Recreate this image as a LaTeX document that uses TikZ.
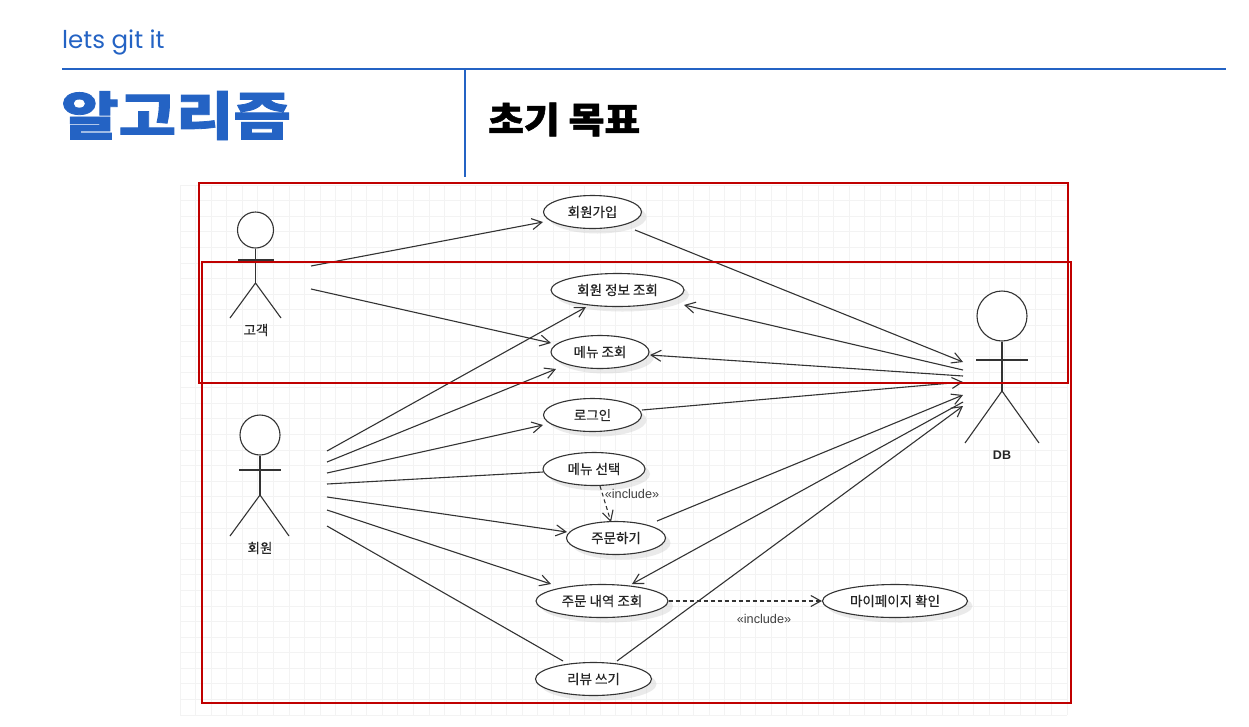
\documentclass[tikz,border=0pt]{standalone}
\usepackage{fontspec}
\usetikzlibrary{shapes.geometric,arrows.meta,shadows}
\newfontfamily\krfont[FakeBold=0.4]{Noto Sans CJK KR}
\newfontfamily\krheavy[BoldFeatures={FakeBold=1.5}]{Noto Sans CJK KR}
\newfontfamily\brandfont{Poppins}
\newfontfamily\umlfont{Liberation Sans}
\definecolor{slideblue}{HTML}{2463C4}
\definecolor{boxred}{HTML}{C00000}
\definecolor{gridgray}{HTML}{F3F3F3}
\definecolor{linegray}{HTML}{333333}
\tikzset{
  gridline/.style={gridgray,line width=0.8pt},
  slideline/.style={slideblue,line width=2pt},
  redbox/.style={boxred,line width=2pt},
  stick/.style={linegray,line width=1.1pt},
  usecase/.style={ellipse,draw=linegray,line width=1.1pt,fill=white,inner sep=0pt,minimum height=33pt,
    font=\krfont\fontsize{13.5}{13.5}\selectfont,text=black!85,
    drop shadow={shadow xshift=5pt,shadow yshift=-5pt,fill=black!20,opacity=0.4}},
  actorlabel/.style={font=\krfont\fontsize{13.5}{13.5}\selectfont,text=black!85,inner sep=0pt},
  note/.style={font=\umlfont\fontsize{12.7}{12.7}\selectfont,text=black!75,inner sep=0pt},
  assoc/.style={linegray,line width=1.1pt,-{Straight Barb[length=10pt,width=11pt]}},
  plainassoc/.style={linegray,line width=1.1pt},
  incl/.style={linegray,line width=1.1pt,dash pattern=on 4pt off 3pt,-{Straight Barb[length=10pt,width=11pt]}},
  head/.style={circle,draw=linegray,line width=1.1pt,fill=white,inner sep=0pt}
}
\begin{document}
\begin{tikzpicture}[x=1pt,y=-1pt]
  \useasboundingbox (0,0) rectangle (1249,726);
  \fill[white] (0,0) rectangle (1249,726);

  % header
  \node[anchor=base west,inner sep=0pt,text=slideblue,font=\brandfont\fontsize{24.5}{24.5}\selectfont] (brand) at (62,48) {lets git it};
  \draw[slideline] (62,69) -- (1226,69);
  \draw[slideline] (465,69) -- (465,177);
  \node[anchor=base west,inner sep=0pt,xscale=1.2,text=slideblue,font=\krheavy\bfseries\fontsize{52}{52}\selectfont] (title) at (61,135) {알고리즘};
  \node[anchor=base west,inner sep=0pt,xscale=1.08,text=black,font=\krheavy\bfseries\fontsize{36}{36}\selectfont] (subtitle) at (488,133) {초기 목표};

  % grid
  \foreach \i in {0,...,57} \draw[gridline] ({180+15.56*\i},185) -- ({180+15.56*\i},715);
  \foreach \i in {0,...,34} \draw[gridline] (180,{185+15.59*\i}) -- (1067,{185+15.59*\i});

  % actors
  \node[head,minimum size=36pt] (guesthead) at (255.5,230) {};
  \coordinate (guesthip) at (255.5,283);
  \draw[stick] (guesthead.south) -- (guesthip);
  \draw[stick] (238,260) -- (274,260);
  \draw[stick] (230,318) -- (guesthip) -- (281,318);
  \node[actorlabel] (guest) at (256,330) {고객};

  \node[head,minimum size=40pt] (memberhead) at (260,435) {};
  \coordinate (memberhip) at (260,495);
  \draw[stick] (memberhead.south) -- (memberhip);
  \draw[stick] (239,470) -- (281,470);
  \draw[stick] (230,536) -- (memberhip) -- (289,536);
  \node[actorlabel] (member) at (260,548) {회원};

  \node[head,minimum size=50pt] (dbhead) at (1002,316) {};
  \coordinate (dbhip) at (1002,391);
  \draw[stick] (dbhead.south) -- (dbhip);
  \draw[stick] (976,360) -- (1028,360);
  \draw[stick] (965,443) -- (dbhip) -- (1039,443);
  \node[inner sep=0pt,text=black!85,font=\umlfont\bfseries\fontsize{12.5}{12.5}\selectfont] (db) at (1002,455) {DB};

  % use cases
  \node[usecase,minimum width=98pt] (signup) at (592.5,212) {회원가입};
  \node[usecase,minimum width=133pt] (info) at (617.5,290) {회원 정보 조회};
  \node[usecase,minimum width=98pt] (menu) at (600,352) {메뉴 조회};
  \node[usecase,minimum width=98pt] (login) at (592.5,415) {로그인};
  \node[usecase,minimum width=102pt] (select) at (594,469) {메뉴 선택};
  \node[usecase,minimum width=99pt] (order) at (616,538) {주문하기};
  \node[usecase,minimum width=132pt] (history) at (602,601) {주문 내역 조회};
  \node[usecase,minimum width=145pt] (mypage) at (895,601) {마이페이지 확인};
  \node[usecase,minimum width=116pt] (review) at (593.5,679) {리뷰 쓰기};

  % free ends next to the actors
  \coordinate (g1) at (311,266);
  \coordinate (g2) at (311,289);
  \coordinate (m1) at (327,451);
  \coordinate (m2) at (327,462);
  \coordinate (m3) at (327,473);
  \coordinate (m4) at (327,484);
  \coordinate (m5) at (327,497);
  \coordinate (m6) at (327,510);
  \coordinate (m7) at (327,526);
  \coordinate (d1) at (963,362);
  \coordinate (d2) at (963,370);
  \coordinate (d3) at (963,376);
  \coordinate (d4) at (963,382);
  \coordinate (d5) at (963,395);
  \coordinate (d6) at (963,402);
  \coordinate (d7) at (963,406);

  % connectors
  \draw[assoc] (g1) -- ([xshift=-49.5pt,yshift=-10pt]signup.center);
  \draw[assoc] (g2) -- ([xshift=-49pt,yshift=9pt]menu.center);
  \draw[assoc] (m1) -- ([xshift=-31.5pt,yshift=-17pt]info.center);
  \draw[assoc] (m2) -- ([xshift=-44pt,yshift=-17pt]menu.center);
  \draw[assoc] (m3) -- ([xshift=-49.5pt,yshift=-10pt]login.center);
  \draw[plainassoc] (m4) -- ([xshift=-51pt,yshift=-3pt]select.center);
  \draw[assoc] (m5) -- ([xshift=-49pt,yshift=6pt]order.center);
  \draw[assoc] (m6) -- ([xshift=-51pt,yshift=17pt]history.center);
  \draw[plainassoc] (m7) -- ([xshift=-30.5pt,yshift=18pt]review.center);
  \draw[assoc] ([xshift=42.5pt,yshift=-18pt]signup.center) -- (d1);
  \draw[assoc] (d2) -- ([xshift=66.5pt,yshift=-15pt]info.center);
  \draw[assoc] (d3) -- ([xshift=50pt,yshift=-3pt]menu.center);
  \draw[assoc] ([xshift=49.5pt,yshift=5pt]login.center) -- (d4);
  \draw[assoc] ([xshift=41pt,yshift=17pt]order.center) -- (d5);
  \draw[assoc] (d6) -- ([xshift=30pt,yshift=17pt]history.center);
  \draw[assoc] ([xshift=23.5pt,yshift=18pt]review.center) -- (d7);
  \draw[incl] ([xshift=6pt,yshift=-17pt]select.center) -- ([xshift=-5pt,yshift=16pt]order.center);
  \draw[incl] (history.east) -- (mypage.west);
  \node[note] (incl1) at (632,494) {«include»};
  \node[note] (incl2) at (764,619) {«include»};

  % red boxes
  \draw[redbox] (199,183) rectangle (1068,383);
  \draw[redbox] (202,262) rectangle (1071,703);
\end{tikzpicture}
\end{document}
